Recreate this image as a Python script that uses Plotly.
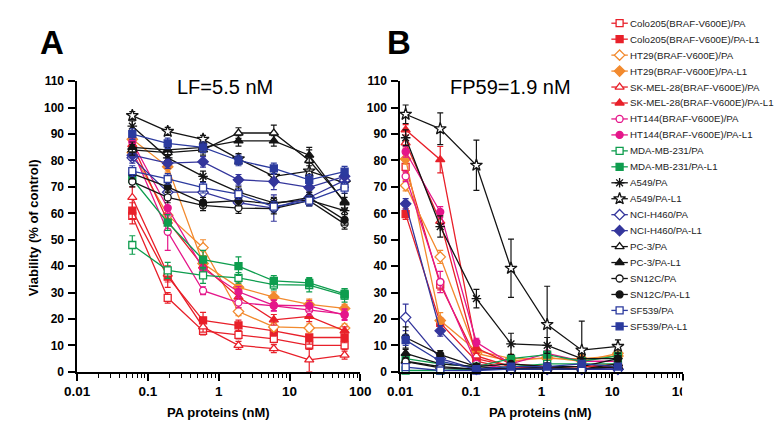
import plotly.graph_objects as go

W, H = 784, 424

NAMES = [
    "Colo205(BRAF-V600E)/PA", "Colo205(BRAF-V600E)/PA-L1",
    "HT29(BRAF-V600E)/PA", "HT29(BRAF-V600E)/PA-L1",
    "SK-MEL-28(BRAF-V600E)/PA", "SK-MEL-28(BRAF-V600E)/PA-L1",
    "HT144(BRAF-V600E)/PA", "HT144(BRAF-V600E)/PA-L1",
    "MDA-MB-231/PA", "MDA-MB-231/PA-L1",
    "A549/PA", "A549/PA-L1",
    "NCI-H460/PA", "NCI-H460/PA-L1",
    "PC-3/PA", "PC-3/PA-L1",
    "SN12C/PA", "SN12C/PA-L1",
    "SF539/PA", "SF539/PA-L1",
]

X_A = [0.06, 0.19, 0.6, 1.9, 6, 19, 60]
X_B = [0.012, 0.037, 0.12, 0.37, 1.2, 3.7, 12]
X_TICKS = [0.01, 0.1, 1, 10, 100]
X_TICK_TEXT = ["0.01", "0.1", "1", "10", "100"]
Y_TICKS = [0, 10, 20, 30, 40, 50, 60, 70, 80, 90, 100, 110]

# ---- Panel A (LF = 5.5 nM) ----
A_COLO205_PA = [59, 28, 15.5, 14, 12.5, 10, 10]
A_COLO205_PA_L1 = [61, 36, 19.5, 17.6, 15.5, 13, 13]
A_HT29_PA = [83, 59.3, 47, 22.8, 17, 16.6, 16.6]
A_HT29_PA_L1 = [88, 77.6, 41, 32, 28.3, 25.5, 24]
A_SKMEL28_PA = [66, 37, 17, 10, 8.8, 4.5, 6.3]
A_SKMEL28_PA_L1 = [86, 57, 40, 28.3, 19.7, 21, 15.5]
A_HT144_PA = [84, 53, 30.7, 26.2, 25, 23.4, 21.8]
A_HT144_PA_L1 = [87, 62, 39, 30.3, 25.2, 25, 21.5]
A_MDA_PA = [48, 38.4, 36.5, 35.6, 33, 32.8, 28.9]
A_MDA_PA_L1 = [73, 56.5, 42.5, 40, 34.4, 33.7, 29.5]
A_A549_PA = [93, 81, 74, 68, 64, 65, 61]
A_A549_PA_L1 = [97, 91, 88, 80.6, 74, 76, 71.5]
A_NCI_PA = [81, 68, 68, 64, 62, 66, 72.5]
A_NCI_PA_L1 = [82, 79, 79.5, 72.7, 72, 69.8, 74]
A_PC3_PA = [84, 83, 84, 90.4, 90.4, 80, 64.5]
A_PC3_PA_L1 = [85, 84, 85, 87.4, 87.4, 82, 64]
A_SN12C_PA = [72, 66, 63, 62, 61.8, 64.8, 56]
A_SN12C_PA_L1 = [75, 70, 64, 64.8, 63.6, 66, 57.5]
A_SF539_PA = [76, 73, 69.7, 67.3, 62.5, 64.8, 69.7]
A_SF539_PA_L1 = [90, 86.5, 85, 80, 77, 72.7, 75.8]

A_ERR_COLO205_PA = [3, 2, 1.5, 1.5, 1.5, 1.5, 1.5]
A_ERR_COLO205_PA_L1 = [3, 4, 3, 2, 2, 2.5, 2]
A_ERR_HT29_PA = [2, 2, 3, 1.5, 1.5, 1.5, 1.5]
A_ERR_HT29_PA_L1 = [2, 2, 3, 2, 2, 2, 1.5]
A_ERR_SKMEL28_PA = [4, 3, 2, 1.5, 1.5, 4.5, 1.5]
A_ERR_SKMEL28_PA_L1 = [3, 3, 3, 2, 2, 2, 1.5]
A_ERR_HT144_PA = [3, 7, 1.5, 2, 2, 2, 2]
A_ERR_HT144_PA_L1 = [3, 3, 3, 2, 2, 2, 2]
A_ERR_MDA_PA = [3.5, 3, 3, 2, 2, 2.5, 2.5]
A_ERR_MDA_PA_L1 = [2, 3, 3.5, 3.5, 2, 2, 2]
A_ERR_A549_PA = [2, 2, 2, 2, 2, 2, 2.5]
A_ERR_A549_PA_L1 = [1.5, 1.5, 1.5, 2, 2, 2, 2]
A_ERR_NCI_PA = [2, 2, 3, 2, 5, 3, 2]
A_ERR_NCI_PA_L1 = [2, 2, 2, 2, 3, 2, 2]
A_ERR_PC3_PA = [2, 2, 2, 2, 3, 4, 3]
A_ERR_PC3_PA_L1 = [2, 2, 2, 2, 2, 3, 2]
A_ERR_SN12C_PA = [2, 2, 2, 2, 2, 2, 2]
A_ERR_SN12C_PA_L1 = [2, 2, 2, 2, 2, 2, 2]
A_ERR_SF539_PA = [2, 2, 2, 2, 2, 2, 2]
A_ERR_SF539_PA_L1 = [2, 2, 2, 2, 2, 2, 2]

# ---- Panel B (FP59 = 1.9 nM) ----
B_COLO205_PA = [77.6, 33, 5, 2, 1, 1, 2]
B_COLO205_PA_L1 = [59.7, 18.5, 4, 1, 1, 1, 1]
B_HT29_PA = [70.5, 43.5, 7, 4, 5.5, 4, 7]
B_HT29_PA_L1 = [80.6, 19.4, 8, 5, 5, 5, 6]
B_SKMEL28_PA = [86.7, 57, 6, 2, 1.5, 2, 2]
B_SKMEL28_PA_L1 = [91.6, 80.3, 9, 3, 2, 2, 3]
B_HT144_PA = [74, 34, 3, 1, 1, 1, 1]
B_HT144_PA_L1 = [83.3, 60.5, 11.2, 3, 7, 4, 4]
B_MDA_PA = [0.5, 0.5, 1, 2, 3, 3, 3]
B_MDA_PA_L1 = [5, 3, 2, 5, 6.5, 4, 6]
B_A549_PA = [88.6, 55, 27.7, 10.6, 10, 5, 5]
B_A549_PA_L1 = [97.5, 92, 78.2, 39.2, 17.9, 8.2, 9.6]
B_NCI_PA = [20.6, 5, 1, 1, 1, 1, 1]
B_NCI_PA_L1 = [63.6, 15.5, 1, 1, 1, 1, 1]
B_PC3_PA = [4, 2, 1, 1, 1, 1, 2]
B_PC3_PA_L1 = [7, 3, 2, 1, 2, 1, 3]
B_SN12C_PA = [3.9, 1.5, 1, 1, 1, 1, 2]
B_SN12C_PA_L1 = [13, 6.5, 2, 3, 2, 2, 5]
B_SF539_PA = [1.8, 0.5, 0.5, 1, 1, 1, 1]
B_SF539_PA_L1 = [12, 4, 1, 2, 2, 3, 2]

B_ERR_COLO205_PA = [2, 2, 1, 1, 1, 1, 1]
B_ERR_COLO205_PA_L1 = [2, 2, 1, 1, 1, 1, 1]
B_ERR_HT29_PA = [2, 2.5, 1.5, 1, 1, 1, 1]
B_ERR_HT29_PA_L1 = [2, 3, 1.5, 1, 1, 1, 1]
B_ERR_SKMEL28_PA = [2, 2, 1, 1, 1, 1, 1]
B_ERR_SKMEL28_PA_L1 = [2, 5, 2, 1, 1, 1, 1]
B_ERR_HT144_PA = [2, 4, 1, 1, 1, 1, 1]
B_ERR_HT144_PA_L1 = [2, 2, 1.5, 1, 1, 1, 1]
B_ERR_MDA_PA = [0.5, 0.5, 1, 1, 1, 1, 1]
B_ERR_MDA_PA_L1 = [1, 1, 1, 1, 1, 1, 1]
B_ERR_A549_PA = [3, 4, 3.5, 4, 3, 2, 2]
B_ERR_A549_PA_L1 = [3.5, 6, 9.5, 11, 14.5, 11, 2.5]
B_ERR_NCI_PA = [5, 2, 1, 1, 1, 1, 1]
B_ERR_NCI_PA_L1 = [2, 2, 1, 1, 1, 1, 1]
B_ERR_PC3_PA = [1, 1, 1, 1, 1, 1, 1]
B_ERR_PC3_PA_L1 = [1.5, 1, 1, 1, 1, 1, 1]
B_ERR_SN12C_PA = [1, 1, 1, 1, 1, 1, 1]
B_ERR_SN12C_PA_L1 = [4, 1.5, 1, 1, 1, 1, 1]
B_ERR_SF539_PA = [1, 0.5, 0.5, 1, 1, 1, 1]
B_ERR_SF539_PA_L1 = [2, 1, 1, 1, 1, 1, 1]

A_VALUES = [A_COLO205_PA, A_COLO205_PA_L1, A_HT29_PA, A_HT29_PA_L1,
            A_SKMEL28_PA, A_SKMEL28_PA_L1, A_HT144_PA, A_HT144_PA_L1,
            A_MDA_PA, A_MDA_PA_L1, A_A549_PA, A_A549_PA_L1,
            A_NCI_PA, A_NCI_PA_L1, A_PC3_PA, A_PC3_PA_L1,
            A_SN12C_PA, A_SN12C_PA_L1, A_SF539_PA, A_SF539_PA_L1]
A_ERRORS = [A_ERR_COLO205_PA, A_ERR_COLO205_PA_L1, A_ERR_HT29_PA, A_ERR_HT29_PA_L1,
            A_ERR_SKMEL28_PA, A_ERR_SKMEL28_PA_L1, A_ERR_HT144_PA, A_ERR_HT144_PA_L1,
            A_ERR_MDA_PA, A_ERR_MDA_PA_L1, A_ERR_A549_PA, A_ERR_A549_PA_L1,
            A_ERR_NCI_PA, A_ERR_NCI_PA_L1, A_ERR_PC3_PA, A_ERR_PC3_PA_L1,
            A_ERR_SN12C_PA, A_ERR_SN12C_PA_L1, A_ERR_SF539_PA, A_ERR_SF539_PA_L1]
B_VALUES = [B_COLO205_PA, B_COLO205_PA_L1, B_HT29_PA, B_HT29_PA_L1,
            B_SKMEL28_PA, B_SKMEL28_PA_L1, B_HT144_PA, B_HT144_PA_L1,
            B_MDA_PA, B_MDA_PA_L1, B_A549_PA, B_A549_PA_L1,
            B_NCI_PA, B_NCI_PA_L1, B_PC3_PA, B_PC3_PA_L1,
            B_SN12C_PA, B_SN12C_PA_L1, B_SF539_PA, B_SF539_PA_L1]
B_ERRORS = [B_ERR_COLO205_PA, B_ERR_COLO205_PA_L1, B_ERR_HT29_PA, B_ERR_HT29_PA_L1,
            B_ERR_SKMEL28_PA, B_ERR_SKMEL28_PA_L1, B_ERR_HT144_PA, B_ERR_HT144_PA_L1,
            B_ERR_MDA_PA, B_ERR_MDA_PA_L1, B_ERR_A549_PA, B_ERR_A549_PA_L1,
            B_ERR_NCI_PA, B_ERR_NCI_PA_L1, B_ERR_PC3_PA, B_ERR_PC3_PA_L1,
            B_ERR_SN12C_PA, B_ERR_SN12C_PA_L1, B_ERR_SF539_PA, B_ERR_SF539_PA_L1]

# ---- styles ----
RED = "#e8202a"
ORANGE = "#f28a2e"
MAGENTA = "#e5168a"
GREEN = "#0e9d4e"
BLACK = "#141414"
BLUE = "#34369c"
BLUE2 = "#2b3a9e"

STYLES = [
    (RED, "square", True, 7), (RED, "square", False, 7),
    (ORANGE, "diamond", True, 8), (ORANGE, "diamond", False, 8),
    (RED, "triangle-up", True, 8), (RED, "triangle-up", False, 8),
    (MAGENTA, "circle", True, 7), (MAGENTA, "circle", False, 7),
    (GREEN, "square", True, 7), (GREEN, "square", False, 7),
    (BLACK, "asterisk-open", False, 8), (BLACK, "star", True, 9),
    (BLUE, "diamond", True, 8), (BLUE, "diamond", False, 8),
    (BLACK, "triangle-up", True, 8), (BLACK, "triangle-up", False, 8),
    (BLACK, "circle", True, 7), (BLACK, "circle", False, 7),
    (BLUE2, "square", True, 7), (BLUE2, "square", False, 7),
]

FONT = "Arial, Liberation Sans, sans-serif"

# minor tick positions on the log axes (2..9 within each decade)
MINOR_TICKS = [m * 10.0 ** d for d in (-2, -1, 0, 1) for m in (2, 3, 4, 5, 6, 7, 8, 9)]


def px_x(v):
    return v / W


def px_y(v):
    return 1 - v / H


fig = go.Figure()


def marker_for(style, size=None):
    color, symbol, hollow, sz = style
    return dict(symbol=symbol, size=size or sz,
                color="white" if hollow else color,
                line=dict(color=color, width=1.3))


for xs, values, errors, xa, ya in [(X_A, A_VALUES, A_ERRORS, "x", "y"),
                                   (X_B, B_VALUES, B_ERRORS, "x2", "y2")]:
    for name, ys, err, style in zip(NAMES, values, errors, STYLES):
        fig.add_trace(go.Scatter(
            x=xs, y=ys, name=name, mode="lines+markers",
            line=dict(color=style[0], width=1.3),
            marker=marker_for(style),
            error_y=dict(type="data", array=err, color=style[0], thickness=1.2, width=3),
            xaxis=xa, yaxis=ya, showlegend=False, cliponaxis=False,
        ))

# ---- manual legend (pixel-space hidden axis) ----
LEG_TOP, LEG_STEP = 8.5, 16.5
LEG_X0, LEG_X1, LEG_TX = 609, 626, 627.5
for i, (name, style) in enumerate(zip(NAMES, STYLES)):
    yy = LEG_TOP + LEG_STEP * i
    fig.add_trace(go.Scatter(x=[LEG_X0, LEG_X1], y=[yy, yy], mode="lines",
                             line=dict(color=style[0], width=1.3),
                             xaxis="x3", yaxis="y3", showlegend=False, hoverinfo="skip"))
    fig.add_trace(go.Scatter(x=[(LEG_X0 + LEG_X1) / 2], y=[yy], mode="markers",
                             marker=marker_for(style),
                             xaxis="x3", yaxis="y3", showlegend=False, hoverinfo="skip"))

annotations = []
for i, name in enumerate(NAMES):
    yy = LEG_TOP + LEG_STEP * i
    annotations.append(dict(x=px_x(LEG_TX), y=px_y(yy), xref="paper", yref="paper",
                            text=name, showarrow=False, xanchor="left", yanchor="middle",
                            borderpad=0,
                            font=dict(family=FONT, size=9.7, color="#222")))

annotations += [
    dict(x=px_x(32), y=px_y(28), text="A", font=dict(family=FONT, size=33, weight="bold", color="black")),
    dict(x=px_x(390), y=px_y(28), text="B", font=dict(family=FONT, size=33, weight="bold", color="black")),
    dict(x=px_x(210), y=px_y(74.5), text="LF=5.5 nM", font=dict(family=FONT, size=20, color="black")),
    dict(x=px_x(505), y=px_y(74.5), text="FP59=1.9 nM", font=dict(family=FONT, size=20, color="black")),
    dict(x=px_x(13), y=px_y(220), text="Viability (% of control)", textangle=-90,
         font=dict(family=FONT, size=13, weight="bold", color="black")),
    dict(x=px_x(204), y=px_y(411.5), text="PA proteins (nM)",
         font=dict(family=FONT, size=13, weight="bold", color="black")),
    dict(x=px_x(536), y=px_y(411.5), text="PA proteins (nM)",
         font=dict(family=FONT, size=13, weight="bold", color="black")),
]
for a in annotations[len(NAMES):]:
    a.update(xref="paper", yref="paper", showarrow=False, xanchor="center", yanchor="middle")

xcommon = dict(type="log", range=[-2, 2], tickmode="array", tickvals=X_TICKS, ticktext=X_TICK_TEXT,
               showline=True, linecolor="black", linewidth=1.6,
               ticks="outside", ticklen=7, tickwidth=1.5, tickcolor="black",
               minor=dict(tickmode="array", tickvals=MINOR_TICKS, ticks="outside", ticklen=4,
                          tickwidth=1.2, tickcolor="black", showgrid=False),
               tickfont=dict(family=FONT, size=13.5, weight="bold", color="black"),
               ticklabelstandoff=-1,
               showgrid=False, zeroline=False)
ycommon = dict(range=[0, 110], tickvals=Y_TICKS,
               showline=True, linecolor="black", linewidth=1.6,
               ticks="outside", ticklen=7, tickwidth=1.5, tickcolor="black",
               tickfont=dict(family=FONT, size=12, weight="bold", color="black"),
               ticklabelstandoff=2,
               showgrid=False, zeroline=False,
               domain=[px_y(369), px_y(68.5)])

fig.update_layout(
    width=W, height=H, margin=dict(l=0, r=0, t=0, b=0),
    paper_bgcolor="white", plot_bgcolor="rgba(0,0,0,0)",
    showlegend=False,
    xaxis=dict(xcommon, domain=[px_x(58), px_x(350)], anchor="y"),
    yaxis=dict(ycommon, anchor="x"),
    xaxis2=dict(xcommon, domain=[px_x(391), px_x(683)], anchor="y2"),
    yaxis2=dict(ycommon, anchor="x2"),
    xaxis3=dict(domain=[0, 1], range=[0, W], visible=False, fixedrange=True, anchor="y3"),
    yaxis3=dict(domain=[0, 1], range=[H, 0], visible=False, fixedrange=True, anchor="x3"),
    annotations=annotations,
    shapes=[dict(type="rect", xref="paper", yref="paper", layer="above",
                 x0=px_x(682), x1=1, y0=px_y(402), y1=px_y(378),
                 fillcolor="white", line=dict(width=0))],
)

fig.write_html("out.html")
